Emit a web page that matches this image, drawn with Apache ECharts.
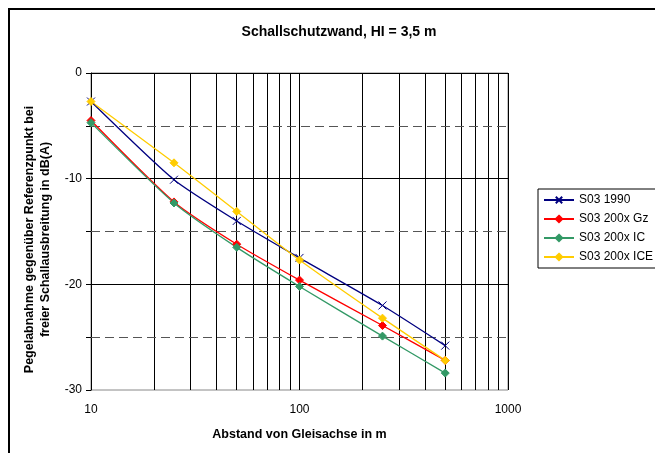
<!DOCTYPE html>
<html><head><meta charset="utf-8">
<script src="https://cdn.jsdelivr.net/npm/echarts@6/dist/echarts.min.js"></script>
<style>html,body{margin:0;padding:0;background:#fff}#c{width:655px;height:453px}</style>
</head><body><div id="c"></div>
<script>
const distances = [10, 25, 50, 100, 250, 500];
const s1990 = [-2.7, -10.1, -14.0, -17.5, -22.0, -25.8];
const sGz   = [-4.5, -12.2, -16.2, -19.6, -23.9, -27.2];
const sIC   = [-4.7, -12.3, -16.5, -20.2, -24.9, -28.4];
const sICE  = [-2.7, -8.5, -13.1, -17.7, -23.2, -27.2];
const seriesNames = ['S03 1990', 'S03 200x Gz', 'S03 200x IC', 'S03 200x ICE'];
const vGrid = [20,30,40,50,60,70,80,90,200,300,400,500,600,700,800,900];
const hSolid = [-10, -20];
const hDashed = [-5, -15, -25];

const font = 'Liberation Sans, Arial, sans-serif';
const pair = a => distances.map((d,i)=>[d,a[i]]);
const chart = echarts.init(document.getElementById('c'));
const mk = (name, color, data, symbol, size, extra) => Object.assign({
  name, type:'line', data: pair(data), smooth:0.2, symbol, symbolSize:size,
  lineStyle:{color, width:1.3}, itemStyle:{color, borderColor:color, borderWidth:1},
  z:5, animation:false
}, extra||{});
chart.setOption({
  animation:false,
  textStyle:{fontFamily:font},
  title:{text:'Schallschutzwand, HI = 3,5 m', left:334, top:20, textAlign:'center',
    textStyle:{fontFamily:'Liberation Sans Narrow, Arial Narrow, '+font, fontSize:14, fontWeight:'bold', color:'#000'}},
  grid:{left:91, top:73, right:147, bottom:63, show:true, borderColor:'#888', borderWidth:1},
  legend:{orient:'vertical', left:538, top:189, itemWidth:30, itemHeight:8, itemGap:7,
    padding:[5,4,5,5], borderColor:'#000', borderWidth:1, data:seriesNames,
    textStyle:{fontFamily:font, fontSize:12, color:'#000'}},
  xAxis:{type:'log', logBase:10, min:10, max:1000,
    name:'Abstand von Gleisachse in m', nameLocation:'middle', nameGap:38,
    nameTextStyle:{fontFamily:font, fontSize:12.5, fontWeight:'bold', color:'#000'},
    axisLine:{lineStyle:{color:'#000'}}, axisTick:{show:true, length:5, lineStyle:{color:'#000'}},
    axisLabel:{fontFamily:font, fontSize:12, color:'#000', margin:14, formatter:v => String(Math.round(v))},
    splitLine:{show:true, lineStyle:{color:'#000'}}, minorTick:{show:false}},
  yAxis:{type:'value', min:-30, max:0, interval:5,
    name:'Pegelabnahme gegenüber Referenzpunkt bei\nfreier Schallausbreitung in dB(A)',
    nameLocation:'middle', nameGap:33, nameRotate:90,
    nameTextStyle:{fontFamily:font, fontSize:12.5, fontWeight:'bold', color:'#000', lineHeight:16, padding:[0,16,0,0]},
    axisLine:{show:true, lineStyle:{color:'#000'}}, axisTick:{show:true, length:5, lineStyle:{color:'#000'}},
    axisLabel:{fontFamily:font, fontSize:12, color:'#000', margin:9,
      formatter:v => (v % 10 === 0 ? String(v) : '')},
    splitLine:{show:false}},
  graphic:[{type:'rect', shape:{x:9, y:9, width:700, height:500}, silent:true,
    style:{fill:'none', stroke:'#000', lineWidth:2}}],
  series:[
    {type:'line', data:[], silent:true, z:1, markLine:{silent:true, symbol:'none', animation:false, label:{show:false},
      lineStyle:{color:'#000', width:1, type:'solid'},
      data: vGrid.map(v=>({xAxis:v})).concat(hSolid.map(v=>({yAxis:v})))}},
    {type:'line', data:[], silent:true, z:1, markLine:{silent:true, symbol:'none', animation:false, label:{show:false},
      lineStyle:{color:'#555', width:1, type:[9,5]},
      data: hDashed.map(v=>({yAxis:v}))}},
    mk(seriesNames[0], '#000080', s1990, 'path://M0,0L10,10M10,0L0,10', 8),
    mk(seriesNames[1], '#FF0000', sGz, 'diamond', 8),
    mk(seriesNames[2], '#339966', sIC, 'diamond', 8),
    mk(seriesNames[3], '#FFCC00', sICE, 'diamond', 8)
  ]
});
</script></body></html>
